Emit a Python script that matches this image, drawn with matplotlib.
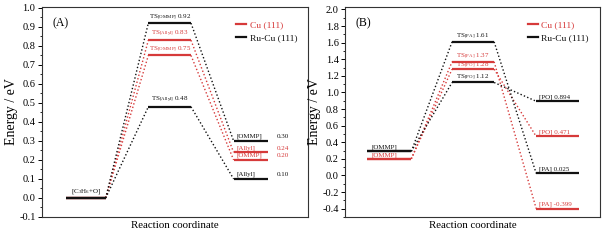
import matplotlib
matplotlib.use("Agg")
import matplotlib.pyplot as plt
from matplotlib.ticker import MultipleLocator
from matplotlib.lines import Line2D

plt.rcParams['font.family'] = ['Liberation Serif', 'DejaVu Serif']
plt.rcParams['mathtext.fontset'] = 'custom'
plt.rcParams['mathtext.rm'] = 'Liberation Serif'
plt.rcParams['mathtext.it'] = 'Liberation Serif:italic'

RED = '#d63a3a'
BLACK = '#111111'

# panel A: [C3H6+O] -> TS -> product
a_cu_allyl = [0.0, 0.83, 0.24]
a_cu_ommp = [0.0, 0.75, 0.20]
a_rucu_ommp = [0.0, 0.92, 0.30]
a_rucu_allyl = [0.0, 0.48, 0.10]
a_ts_labels = [r'TS$_{\rm [Allyl]}$', r'TS$_{\rm [OMMP]}$', r'TS$_{\rm [OMMP]}$', r'TS$_{\rm [Allyl]}$']
a_end_labels = ['[Allyl]', '[OMMP]', '[OMMP]', '[Allyl]']

# panel B: [OMMP] -> TS -> product
b_cu_pa = [0.20, 1.37, -0.399]
b_cu_po = [0.20, 1.28, 0.471]
b_rucu_pa = [0.29, 1.61, 0.025]
b_rucu_po = [0.29, 1.12, 0.894]
b_ts_labels = [r'TS$_{\rm [PA]}$', r'TS$_{\rm [PO]}$', r'TS$_{\rm [PA]}$', r'TS$_{\rm [PO]}$']
b_end_labels = ['[PA]', '[PO]', '[PA]', '[PO]']

fig = plt.figure(figsize=(6.14, 2.4), dpi=100)
axA = fig.add_axes([0.068, 0.096, 0.434, 0.875])
axB = fig.add_axes([0.562, 0.096, 0.415, 0.875])

FS = 5


def draw_path(ax, vals, xs, color):
    for i, (x0, x1) in enumerate(xs):
        ax.plot([x0, x1], [vals[i], vals[i]], color=color, lw=1.6, solid_capstyle='butt', zorder=3)
        if i > 0:
            ax.plot([xs[i - 1][1], x0], [vals[i - 1], vals[i]], color=color, lw=1.0,
                    ls=(0, (1, 1.6)), zorder=2)


def style(ax, ylo, yhi, major, minor):
    ax.set_xlim(0, 10)
    ax.set_ylim(ylo, yhi)
    ax.set_xticks([])
    ax.yaxis.set_major_locator(MultipleLocator(major))
    ax.yaxis.set_minor_locator(MultipleLocator(minor))
    ax.yaxis.set_major_formatter(plt.FormatStrFormatter('%.1f'))
    ax.tick_params(axis='y', labelsize=7.5, length=3, width=0.7, pad=1.5)
    ax.tick_params(axis='y', which='minor', length=1.8, width=0.6)
    for s in ax.spines.values():
        s.set_linewidth(0.8)
        s.set_color('#333333')
    ax.set_xlabel('Reaction coordinate', fontsize=7.8, labelpad=3)
    ax.set_ylabel('Energy / eV', fontsize=10, labelpad=1)
    handles = [Line2D([], [], color=RED, lw=1.6), Line2D([], [], color=BLACK, lw=1.6)]
    ax.legend(handles, ['Cu (111)', 'Ru-Cu (111)'], loc='upper right', frameon=False,
              fontsize=6.8, handlelength=1.0, handletextpad=0.4, labelspacing=0.5,
              labelcolor=[RED, BLACK], bbox_to_anchor=(0.99, 0.975))


# ---- panel A
xsA = [(0.9, 2.4), (4.0, 5.6), (7.2, 8.5)]
pathsA = [(a_cu_allyl, RED), (a_cu_ommp, RED), (a_rucu_ommp, BLACK), (a_rucu_allyl, BLACK)]
for (vals, c), ts, end in zip(pathsA, a_ts_labels, a_end_labels):
    draw_path(axA, vals, xsA, c)
    axA.text(sum(xsA[1]) / 2, vals[1] + 0.012, f'{ts} {vals[1]:.2f}', color=c, fontsize=FS,
             ha='center', va='bottom')
    axA.text(xsA[2][0] + 0.1, vals[2] + 0.008, end, color=c, fontsize=FS, ha='left', va='bottom')
    axA.text(xsA[2][1] + 0.3, vals[2] + 0.008, f'{vals[2]:.2f}', color=c, fontsize=FS,
             ha='left', va='bottom')
axA.text(sum(xsA[0]) / 2, a_rucu_ommp[0] + 0.012, r'[C$_3$H$_6$+O]', color=BLACK, fontsize=FS,
         ha='center', va='bottom')
style(axA, -0.1, 1.005, 0.1, 0.05)
axA.text(0.04, 0.91, '(A)', transform=axA.transAxes, fontsize=8.5)

# ---- panel B
xsB = [(0.85, 2.6), (4.2, 5.85), (7.5, 9.2)]
pathsB = [(b_cu_pa, RED), (b_cu_po, RED), (b_rucu_pa, BLACK), (b_rucu_po, BLACK)]
ts_off = [0.025, 0.0, 0.025, 0.02]
for (vals, c), ts, end, off in zip(pathsB, b_ts_labels, b_end_labels, ts_off):
    draw_path(axB, vals, xsB, c)
    axB.text(sum(xsB[1]) / 2, vals[1] + off, f'{ts} {vals[1]:.2f}', color=c, fontsize=FS,
             ha='center', va='bottom')
    axB.text(xsB[2][0] + 0.1, vals[2] + 0.02, f'{end} {vals[2]:.3f}', color=c, fontsize=FS,
             ha='left', va='bottom')
for vals, c in [(b_cu_pa, RED), (b_rucu_pa, BLACK)]:
    axB.text(xsB[0][0] + 0.2, vals[0] + 0.015, '[OMMP]', color=c, fontsize=FS, ha='left', va='bottom')
style(axB, -0.5, 2.03, 0.2, 0.1)
axB.text(0.04, 0.91, '(B)', transform=axB.transAxes, fontsize=8.5)

fig.savefig('out.png', dpi=100)
